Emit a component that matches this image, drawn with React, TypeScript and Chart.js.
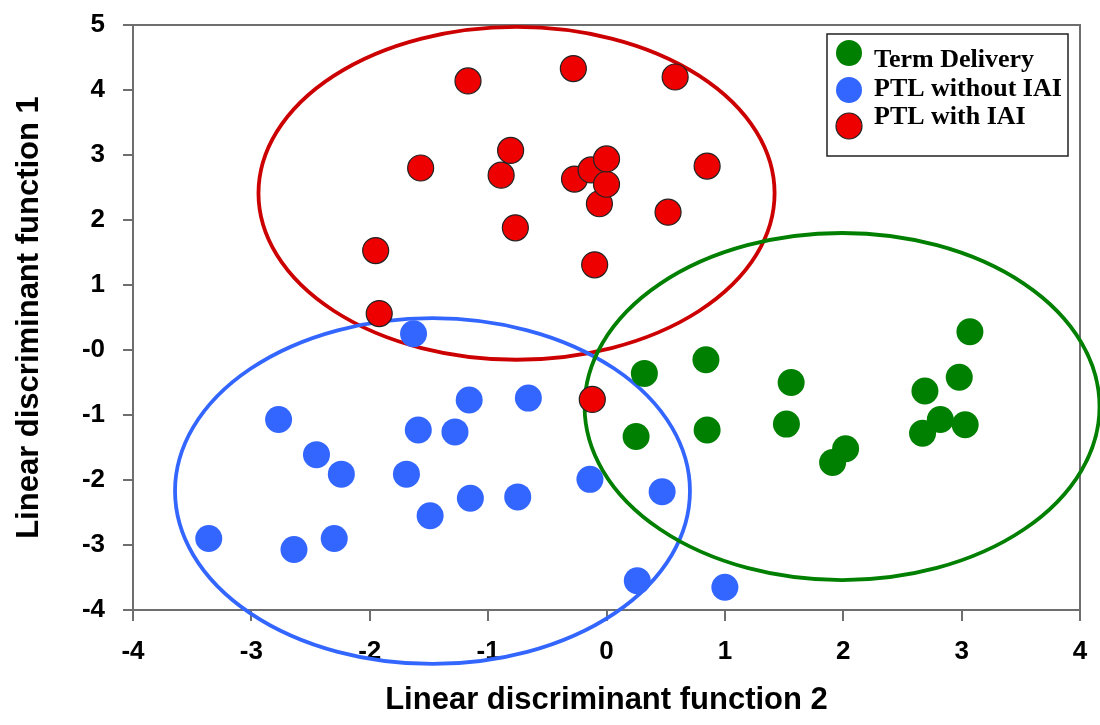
import React, { useEffect, useRef } from 'react';
import { Chart, registerables } from 'chart.js';

Chart.register(...registerables);

// ---- data ----
const seriesNames = ['Term Delivery', 'PTL without IAI', 'PTL with IAI'];

const termX = [0.32, 0.84, 3.07, 1.56, 2.98, 2.69, 2.82, 3.03, 2.67, 1.52, 0.85, 0.25, 2.02, 1.91];
const termY = [-0.36, -0.15, 0.28, -0.5, -0.42, -0.63, -1.07, -1.15, -1.28, -1.14, -1.23, -1.33, -1.52, -1.73];

const ptlNoIaiX = [-1.63, -2.77, -1.16, -0.66, -1.59, -1.28, -2.45, -2.24, -1.69, -0.14, 0.47, -1.15, -0.75, -1.49, -3.36, -2.64, -2.3, 0.26, 1.0];
const ptlNoIaiY = [0.25, -1.07, -0.77, -0.74, -1.23, -1.26, -1.61, -1.91, -1.91, -1.99, -2.18, -2.28, -2.26, -2.55, -2.9, -3.07, -2.9, -3.55, -3.65];

const ptlIaiX = [-1.17, -0.28, 0.58, -1.57, -0.81, -0.89, -0.27, -0.13, -0.06, 0.0, 0.0, 0.85, 0.52, -0.77, -1.95, -0.1, -1.92, -0.12];
const ptlIaiY = [4.14, 4.33, 4.2, 2.8, 3.07, 2.69, 2.63, 2.77, 2.25, 2.55, 2.94, 2.83, 2.12, 1.88, 1.53, 1.31, 0.56, -0.76];

const xTickValues = [-4, -3, -2, -1, 0, 1, 2, 3, 4];
const xTickLabels = ['-4', '-3', '-2', '-1', '0', '1', '2', '3', '4'];
const yTickValues = [-4, -3, -2, -1, 0, 1, 2, 3, 4, 5];
const yTickLabels = ['-4', '-3', '-2', '-1', '-0', '1', '2', '3', '4', '5'];

// group ellipses: red (PTL with IAI), blue (PTL without IAI), green (Term Delivery) – drawn in this order
const ellipseCenterX = [-0.76, -1.47, 1.99];
const ellipseCenterY = [2.41, -2.17, -0.87];
const ellipseRadiusX = [2.18, 2.175, 2.175];
const ellipseRadiusY = [2.56, 2.66, 2.67];
const ellipseColors = ['#CC0000', '#3366FF', '#007F00'];

const seriesColors = ['#008000', '#3366FF', '#EE0000'];

const AXIS_GREY = '#6e6e6e';

const ellipsePlugin = {
  id: 'ellipses',
  beforeDatasetsDraw(chart: any) {
    const { ctx, chartArea, scales } = chart;
    const xs = scales.x;
    const ys = scales.y;
    ctx.save();
    ctx.strokeStyle = AXIS_GREY;
    ctx.lineWidth = 2;
    ctx.strokeRect(chartArea.left, chartArea.top, chartArea.right - chartArea.left, chartArea.bottom - chartArea.top);
    for (let i = 0; i < ellipseCenterX.length; i++) {
      const cx = xs.getPixelForValue(ellipseCenterX[i]);
      const cy = ys.getPixelForValue(ellipseCenterY[i]);
      const rx = xs.getPixelForValue(ellipseCenterX[i] + ellipseRadiusX[i]) - cx;
      const ry = cy - ys.getPixelForValue(ellipseCenterY[i] + ellipseRadiusY[i]);
      ctx.beginPath();
      ctx.ellipse(cx, cy, rx, ry, 0, 0, Math.PI * 2);
      ctx.lineWidth = 3.8;
      ctx.strokeStyle = ellipseColors[i];
      ctx.stroke();
    }
    ctx.restore();
  },
};

const legendPlugin = {
  id: 'boxLegend',
  afterDraw(chart: any) {
    const { ctx } = chart;
    ctx.save();
    const bx = 827, by = 34, bw = 241, bh = 122;
    ctx.fillStyle = '#ffffff';
    ctx.fillRect(bx, by, bw, bh);
    ctx.strokeStyle = '#222';
    ctx.lineWidth = 1.5;
    ctx.strokeRect(bx, by, bw, bh);
    const markerY = [53, 90, 126];
    const textY = [60, 89, 117];
    chart.data.datasets.forEach((ds: any, i: number) => {
      ctx.beginPath();
      ctx.arc(849, markerY[i], 13, 0, Math.PI * 2);
      ctx.fillStyle = ds.backgroundColor;
      ctx.fill();
      if (ds.borderWidth > 0) {
        ctx.lineWidth = ds.borderWidth;
        ctx.strokeStyle = ds.borderColor;
        ctx.stroke();
      }
      ctx.fillStyle = '#000';
      ctx.font = 'bold 26px "Liberation Serif", "Times New Roman", serif';
      ctx.textBaseline = 'middle';
      ctx.textAlign = 'left';
      ctx.fillText(ds.label, 874, textY[i]);
    });
    ctx.restore();
  },
};

const tickFont = { family: '"Liberation Sans", Arial, sans-serif', weight: 'bold' as const, size: 26 };
const titleFont = { family: '"Liberation Sans", Arial, sans-serif', weight: 'bold' as const, size: 31 };

export default function App() {
  const canvasRef = useRef<HTMLCanvasElement>(null);

  useEffect(() => {
    document.body.style.margin = '0';
    const canvas = canvasRef.current;
    if (!canvas) return;
    const toPoints = (xs: number[], ys: number[]) => xs.map((x, i) => ({ x, y: ys[i] }));
    const chart = new Chart(canvas, {
      type: 'scatter',
      data: {
        datasets: [
          {
            label: seriesNames[0],
            data: toPoints(termX, termY),
            backgroundColor: seriesColors[0],
            borderColor: seriesColors[0],
            borderWidth: 0,
            pointRadius: 13.5,
            pointHoverRadius: 13.5,
          },
          {
            label: seriesNames[1],
            data: toPoints(ptlNoIaiX, ptlNoIaiY),
            backgroundColor: seriesColors[1],
            borderColor: seriesColors[1],
            borderWidth: 0,
            pointRadius: 13.5,
            pointHoverRadius: 13.5,
          },
          {
            label: seriesNames[2],
            data: toPoints(ptlIaiX, ptlIaiY),
            backgroundColor: seriesColors[2],
            borderColor: '#222222',
            borderWidth: 1.2,
            pointRadius: 13,
            pointHoverRadius: 13,
          },
        ],
      },
      options: {
        responsive: false,
        maintainAspectRatio: false,
        animation: false,
        events: [],
        layout: { padding: { top: 25, right: 20, left: 0, bottom: 0 } },
        plugins: {
          legend: { display: false },
          tooltip: { enabled: false },
        },
        scales: {
          x: {
            type: 'linear',
            position: 'bottom',
            min: -4,
            max: 4,
            afterBuildTicks: (s: any) => {
              s.ticks = xTickValues.map((v) => ({ value: v }));
            },
            afterFit: (s: any) => {
              s.height = 115;
              s.paddingLeft = 0;
              s.paddingRight = 0;
            },
            ticks: {
              font: tickFont,
              color: '#000',
              padding: 15,
              maxRotation: 0,
              callback: (v: any) => xTickLabels[xTickValues.indexOf(Number(v))] ?? '',
            },
            grid: { drawOnChartArea: false, drawTicks: true, tickLength: 11, color: AXIS_GREY, lineWidth: 2 },
            border: { display: true, color: AXIS_GREY, width: 2 },
            title: {
              display: true,
              text: 'Linear discriminant function 2',
              font: titleFont,
              color: '#000',
              padding: { top: 0, bottom: 6 },
            },
          },
          y: {
            type: 'linear',
            position: 'left',
            min: -4,
            max: 5,
            afterBuildTicks: (s: any) => {
              s.ticks = yTickValues.map((v) => ({ value: v }));
            },
            afterFit: (s: any) => {
              s.width = 133;
              s.paddingTop = 0;
              s.paddingBottom = 0;
            },
            ticks: {
              font: tickFont,
              color: '#000',
              padding: 18,
              callback: (v: any) => yTickLabels[yTickValues.indexOf(Number(v))] ?? '',
            },
            grid: { drawOnChartArea: false, drawTicks: true, tickLength: 10, color: AXIS_GREY, lineWidth: 2 },
            border: { display: true, color: AXIS_GREY, width: 2 },
            title: {
              display: true,
              text: 'Linear discriminant function 1',
              font: titleFont,
              color: '#000',
              padding: { top: 11, bottom: 0 },
            },
          },
        },
      },
      plugins: [ellipsePlugin, legendPlugin],
    } as any);
    return () => chart.destroy();
  }, []);

  return (
    <canvas ref={canvasRef} width={1100} height={725} style={{ display: 'block', width: 1100, height: 725 }} />
  );
}
